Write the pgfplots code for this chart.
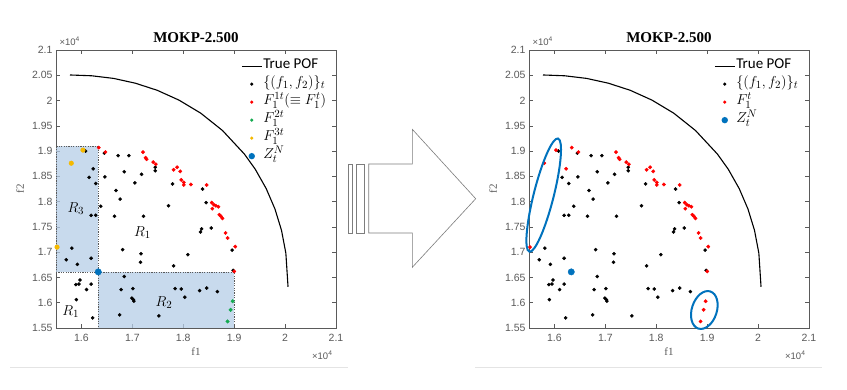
\documentclass[border=0pt]{standalone}
\usepackage{fontspec}
\setmainfont{Liberation Sans}
\newfontfamily\legf{Carlito}
\newfontfamily\serf{Liberation Serif}
\usepackage{pgfplots}
\pgfplotsset{compat=1.18}
\usepackage{pgfplotstable}

\definecolor{axgray}{RGB}{90,90,90}
\definecolor{zblue}{RGB}{0,114,189}
\definecolor{fillblue}{RGB}{182,206,232}
\definecolor{ygold}{RGB}{245,185,0}
\definecolor{ggreen}{RGB}{20,170,80}
\definecolor{sepgray}{RGB}{228,228,228}
\definecolor{arrgray}{RGB}{125,125,125}

\pgfplotstableread{
x y
1.608 1.900
1.645 1.896
1.672 1.891
1.693 1.891
1.745 1.868
1.745 1.861
1.615 1.848
1.628 1.836
1.646 1.849
1.684 1.859
1.705 1.837
1.718 1.854
1.779 1.835
1.838 1.825
1.668 1.822
1.676 1.805
1.638 1.791
1.619 1.773
1.628 1.773
1.665 1.771
1.722 1.771
1.771 1.792
1.845 1.798
1.836 1.746
1.834 1.740
1.855 1.748
1.896 1.704
1.898 1.664
1.581 1.708
1.570 1.685
1.592 1.676
1.619 1.688
1.681 1.705
1.717 1.697
1.716 1.680
1.809 1.695
1.781 1.673
1.684 1.652
1.597 1.645
1.595 1.637
1.589 1.636
1.619 1.637
1.610 1.626
1.678 1.626
1.701 1.628
1.699 1.609
1.702 1.606
1.703 1.603
1.784 1.628
1.796 1.627
1.803 1.611
1.832 1.624
1.846 1.629
1.867 1.622
1.590 1.606
1.675 1.576
1.622 1.570
1.752 1.574
}\blackpts

\pgfplotstableread{
x y
1.634 1.907
1.647 1.898
1.721 1.898
1.726 1.887
1.728 1.884
1.741 1.878
1.746 1.874
1.781 1.863
1.788 1.868
1.794 1.860
1.796 1.843
1.801 1.838
1.801 1.833
1.815 1.834
1.846 1.833
1.856 1.798
1.860 1.794
1.864 1.792
1.869 1.790
1.857 1.786
1.871 1.774
1.874 1.771
1.877 1.767
1.883 1.738
1.887 1.728
1.902 1.711
1.900 1.662
}\redpts

\pgfplotstableread{
x y
1.623 1.865
}\redfive

\pgfplotstableread{
x y
1.603 1.902
1.580 1.876
1.552 1.710
}\yellowpts

\pgfplotstableread{
x y
1.897 1.603
1.893 1.586
1.887 1.563
}\greenpts

\pgfplotstableread{
x y
1.633 1.661
}\zpt

\pgfplotstableread{
x y
1.5775 2.0506
1.6203 2.0490
1.6632 2.0438
1.7060 2.0343
1.7488 2.0203
1.7917 2.0008
1.8345 1.9749
1.8773 1.9405
1.9201 1.8941
1.9416 1.8638
1.9630 1.8256
1.9801 1.7855
1.9930 1.7431
2.0015 1.6981
2.0058 1.6316
}\pof

\pgfplotsset{
  mokp/.style={
    scale only axis, width=280pt, height=278pt,
    xmin=1.55, xmax=2.1, ymin=1.55, ymax=2.1,
    xtick={1.6,1.7,1.8,1.9,2,2.1},
    xticklabels={1.6,1.7,1.8,1.9,2,2.1},
    ytick={1.55,1.6,1.65,1.7,1.75,1.8,1.85,1.9,1.95,2,2.05,2.1},
    yticklabels={1.55,1.6,1.65,1.7,1.75,1.8,1.85,1.9,1.95,2,2.05,2.1},
    tick align=inside, major tick length=4pt,
    axis line style={draw=axgray, line width=0.7pt},
    every tick/.style={draw=axgray, line width=0.6pt},
    tick label style={font=\fontsize{10.5}{10.5}\selectfont, text=axgray},
    /pgf/number format/assume math mode=true,
    xticklabel style={yshift=-3pt},
    clip=false,
    xlabel={f1}, ylabel={f2},
    label style={font=\serf\fontsize{11}{11}\selectfont, text=axgray},
    xlabel style={at={(axis description cs:0.5,-0.1)}, anchor=base},
    ylabel style={at={(axis description cs:-0.129,0.5)}, anchor=center},
    legend cell align=left,
    legend style={at={(axis description cs:0.661,0.975)}, anchor=north west,
      draw=none, fill=none, font=\fontsize{15}{15}\selectfont,
      row sep=0pt, column sep=0pt, inner sep=0pt,
      nodes={inner sep=1pt, text height=10.5pt, text depth=5.5pt}},
  },
  lineimg/.style={legend image code/.code={\path[draw=none,fill=none] (0pt,-3pt) rectangle (20pt,3pt); \draw[black, line width=1pt] (0pt,0pt)--(20pt,0pt);}},
  dotimg/.style 2 args={legend image code/.code={\path[draw=none,fill=none] (0pt,-3pt) rectangle (20pt,3pt); \fill[#1, draw=none] (10pt,0pt) circle (#2);}},
}

\begin{document}
\begin{tikzpicture}
\useasboundingbox (0pt,0pt) rectangle (847pt,389pt);
\fill[white] (0pt,0pt) rectangle (847pt,389pt);
\draw[sepgray, line width=0.8pt] (10pt,22pt) -- (348pt,22pt);
\draw[sepgray, line width=0.8pt] (475pt,22pt) -- (822pt,22pt);

% ---------- left panel
\begin{axis}[mokp, at={(56pt,61pt)}, anchor=south west]
\addlegendimage{lineimg}\addlegendentry{\legf True POF}
\addlegendimage{dotimg={black}{1.7pt}}\addlegendentry{$\{(f_1,f_2)\}_t$}
\addlegendimage{dotimg={red}{1.7pt}}\addlegendentry{$F_1^{1t}(\equiv F_1^t)$}
\addlegendimage{dotimg={ggreen}{1.7pt}}\addlegendentry{$F_1^{2t}$}
\addlegendimage{dotimg={ygold}{1.7pt}}\addlegendentry{$F_1^{3t}$}
\addlegendimage{dotimg={zblue}{3.2pt}}\addlegendentry{$Z_t^N$}

\addplot[black, line width=1.1pt, forget plot] table {\pof};
\addplot[only marks, mark=*, mark size=1.6pt, black, forget plot] table {\blackpts};
\addplot[only marks, mark=*, mark size=1.6pt, black, forget plot] table {\redfive};
\addplot[fill=fillblue, fill opacity=0.75, draw=axgray, dash pattern=on 1.2pt off 1.2pt, line width=0.7pt, forget plot]
  coordinates {(1.55,1.661) (1.633,1.661) (1.633,1.910) (1.55,1.910)} -- cycle;
\addplot[fill=fillblue, fill opacity=0.75, draw=axgray, dash pattern=on 1.2pt off 1.2pt, line width=0.7pt, forget plot]
  coordinates {(1.633,1.55) (1.900,1.55) (1.900,1.661) (1.633,1.661)} -- cycle;
\addplot[only marks, mark=*, mark size=1.7pt, red, forget plot] table {\redpts};
\addplot[only marks, mark=*, mark size=1.8pt, ggreen, forget plot] table {\greenpts};
\addplot[only marks, mark=*, mark size=2.3pt, ygold, forget plot] table {\yellowpts};
\addplot[only marks, mark=*, mark size=3.2pt, zblue, forget plot] table {\zpt};

\node[font=\fontsize{15}{15}\selectfont] at (axis cs:1.589,1.786) {$R_3$};
\node[font=\fontsize{15}{15}\selectfont] at (axis cs:1.720,1.738) {$R_1$};
\node[font=\fontsize{15}{15}\selectfont] at (axis cs:1.762,1.601) {$R_2$};
\node[font=\fontsize{15}{15}\selectfont] at (axis cs:1.579,1.583) {$R_1$};
\node[anchor=base, yshift=7.7pt, font=\serf\bfseries\fontsize{15}{15}\selectfont] at (rel axis cs:0.5,1) {MOKP-2.500};
\node[anchor=base west, yshift=4.5pt, font=\fontsize{9.5}{9.5}\selectfont, text=axgray] at (rel axis cs:0,1) {×10\textsuperscript{4}};
\node[anchor=base east, yshift=-31pt, font=\fontsize{9.5}{9.5}\selectfont, text=axgray] at (rel axis cs:1,0) {×10\textsuperscript{4}};
\end{axis}

% ---------- arrow
\draw[arrgray, line width=0.6pt] (348.3pt,156pt) rectangle (352.3pt,225pt);
\draw[arrgray, line width=0.6pt] (356pt,156pt) rectangle (364.7pt,225pt);
\draw[arrgray, line width=0.6pt] (368.7pt,225pt) -- (412.3pt,225pt) -- (412.3pt,259.7pt) -- (475.7pt,190.3pt) -- (412.3pt,121.7pt) -- (412.3pt,156pt) -- (368.7pt,156pt) -- cycle;

% ---------- right panel
\begin{axis}[mokp, at={(529pt,61pt)}, anchor=south west]
\addlegendimage{lineimg}\addlegendentry{\legf True POF}
\addlegendimage{dotimg={black}{1.7pt}}\addlegendentry{$\{(f_1,f_2)\}_t$}
\addlegendimage{dotimg={red}{1.7pt}}\addlegendentry{$F_1^t$}
\addlegendimage{dotimg={zblue}{3.2pt}}\addlegendentry{$Z_t^N$}

\addplot[black, line width=1.1pt, forget plot] table {\pof};
\addplot[only marks, mark=*, mark size=1.6pt, black, forget plot] table {\blackpts};
\addplot[only marks, mark=*, mark size=1.7pt, red, forget plot] table {\redpts};
\addplot[only marks, mark=*, mark size=1.7pt, red, forget plot] table {\redfive};
\addplot[only marks, mark=*, mark size=1.7pt, red, forget plot] table {\yellowpts};
\addplot[only marks, mark=*, mark size=1.7pt, red, forget plot] table {\greenpts};
\addplot[only marks, mark=*, mark size=3.2pt, zblue, forget plot] table {\zpt};

\coordinate (E1) at (axis cs:1.5789,1.813);
\coordinate (E2) at (axis cs:1.8944,1.5856);
\node[anchor=base, yshift=7.7pt, font=\serf\bfseries\fontsize{15}{15}\selectfont] at (rel axis cs:0.5,1) {MOKP-2.500};
\node[anchor=base west, yshift=4.5pt, font=\fontsize{9.5}{9.5}\selectfont, text=axgray] at (rel axis cs:0,1) {×10\textsuperscript{4}};
\node[anchor=base east, yshift=-31pt, font=\fontsize{9.5}{9.5}\selectfont, text=axgray] at (rel axis cs:1,0) {×10\textsuperscript{4}};
\end{axis}
\draw[zblue, line width=2pt, rotate around={75.8:(E1)}] (E1) ellipse [x radius=58.4pt, y radius=10pt];
\draw[zblue, line width=2pt, rotate around={72:(E2)}] (E2) ellipse [x radius=19.5pt, y radius=12.5pt];
\end{tikzpicture}
\end{document}
